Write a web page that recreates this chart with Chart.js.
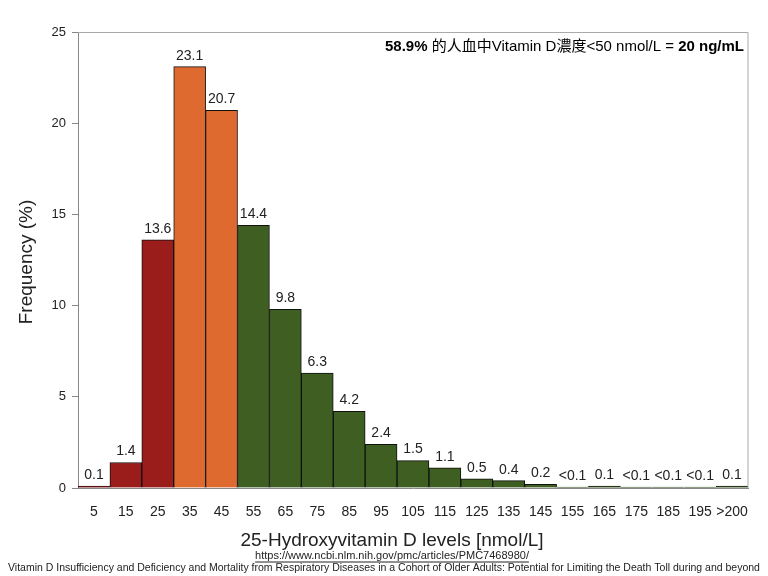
<!DOCTYPE html>
<html><head><meta charset="utf-8">
<script src="https://cdn.jsdelivr.net/npm/chart.js@4"></script>
<style>body{margin:0;background:#fff}#wrap{width:768px;height:576px;position:relative}</style>
</head><body><div id="wrap"><canvas id="c" width="768" height="576"></canvas></div>
<script>
var categories = ['5','15','25','35','45','55','65','75','85','95','105','115','125','135','145','155','165','175','185','195','>200'];
var values = [0.1,1.4,13.6,23.1,20.7,14.4,9.8,6.3,4.2,2.4,1.5,1.1,0.5,0.4,0.2,0.05,0.1,0.05,0.05,0.05,0.1];
var valueLabels = ['0.1','1.4','13.6','23.1','20.7','14.4','9.8','6.3','4.2','2.4','1.5','1.1','0.5','0.4','0.2','<0.1','0.1','<0.1','<0.1','<0.1','0.1'];
var yTicks = [0,5,10,15,20,25];

var colors = values.map(function(v, i) {
  if (i < 3) return '#9a1c1b';
  if (i < 5) return '#df6a30';
  return '#3f5e21';
});

var font = "'Liberation Sans', Arial, sans-serif";

var extras = {
  id: 'extras',
  afterDatasetsDraw: function(chart) {
    var ctx = chart.ctx, meta = chart.getDatasetMeta(0), a = chart.chartArea;
    ctx.save();
    ctx.fillStyle = '#222';
    ctx.font = '14px ' + font;
    ctx.textAlign = 'center';
    ctx.textBaseline = 'bottom';
    meta.data.forEach(function(bar, i) {
      ctx.fillText(valueLabels[i], bar.x, bar.y - 4);
    });
    // frame
    ctx.strokeStyle = '#aaa';
    ctx.lineWidth = 1;
    ctx.beginPath();
    ctx.moveTo(a.left, a.top + 0.5); ctx.lineTo(a.right, a.top + 0.5); ctx.lineTo(a.right, a.bottom);
    ctx.stroke();
    // annotation
    ctx.textAlign = 'left';
    ctx.textBaseline = 'middle';
    var parts = [['bold','58.9%'],['normal',' 的人血中Vitamin D濃度<50 nmol/L = '],['bold','20 ng/mL']];
    var w = 0;
    parts.forEach(function(p){ ctx.font = p[0]+" 15px "+font+", 'Noto Sans CJK TC'"; w += ctx.measureText(p[1]).width; });
    var x = 744 - w;
    ctx.fillStyle = '#000';
    parts.forEach(function(p){ ctx.font = p[0]+" 15px "+font+", 'Noto Sans CJK TC'"; ctx.fillText(p[1], x, 47); x += ctx.measureText(p[1]).width; });
    // axis titles
    ctx.textAlign = 'center';
    ctx.fillStyle = '#222';
    ctx.font = '19px ' + font;
    ctx.fillText('25-Hydroxyvitamin D levels [nmol/L]', 392, 541);
    ctx.save();
    ctx.translate(27, 262);
    ctx.rotate(-Math.PI / 2);
    ctx.fillText('Frequency (%)', 0, 0);
    ctx.restore();
    ctx.font = '11px ' + font;
    ctx.fillText('https://www.ncbi.nlm.nih.gov/pmc/articles/PMC7468980/', 392, 556);
    ctx.beginPath(); ctx.strokeStyle = '#222';
    var uw = ctx.measureText('https://www.ncbi.nlm.nih.gov/pmc/articles/PMC7468980/').width;
    ctx.moveTo(392 - uw/2, 562); ctx.lineTo(392 + uw/2, 562); ctx.stroke();
    ctx.font = '10.5px ' + font;
    ctx.fillText('Vitamin D Insufficiency and Deficiency and Mortality from Respiratory Diseases in a Cohort of Older Adults: Potential for Limiting the Death Toll during and beyond', 384, 568);
    ctx.restore();
  }
};

new Chart(document.getElementById('c'), {
  type: 'bar',
  data: {
    labels: categories,
    datasets: [{
      data: values,
      backgroundColor: colors,
      borderColor: '#111',
      borderWidth: 1,
      barPercentage: 1,
      categoryPercentage: 1
    }]
  },
  options: {
    responsive: false,
    animation: false,
    layout: { padding: { top: 32, right: 20, left: 0, bottom: 0 } },
    plugins: { legend: { display: false }, tooltip: { enabled: false } },
    scales: {
      x: {
        afterFit: function(s) { s.height = 88; },
        grid: { display: false, drawOnChartArea: false },
        border: { color: '#888', width: 1 },
        ticks: { color: '#222', font: { family: font, size: 14 }, maxRotation: 0, autoSkip: false, padding: 8 }
      },
      y: {
        min: 0, max: 25,
        afterFit: function(s) { s.width = 78; },
        afterBuildTicks: function(s) { s.ticks = yTicks.map(function(v){ return { value: v }; }); },
        grid: { drawOnChartArea: false, tickLength: 6, color: '#888' },
        border: { color: '#888', width: 1 },
        ticks: { color: '#222', font: { family: font, size: 13 }, padding: 6 }
      }
    }
  },
  plugins: [extras]
});
</script></body></html>
